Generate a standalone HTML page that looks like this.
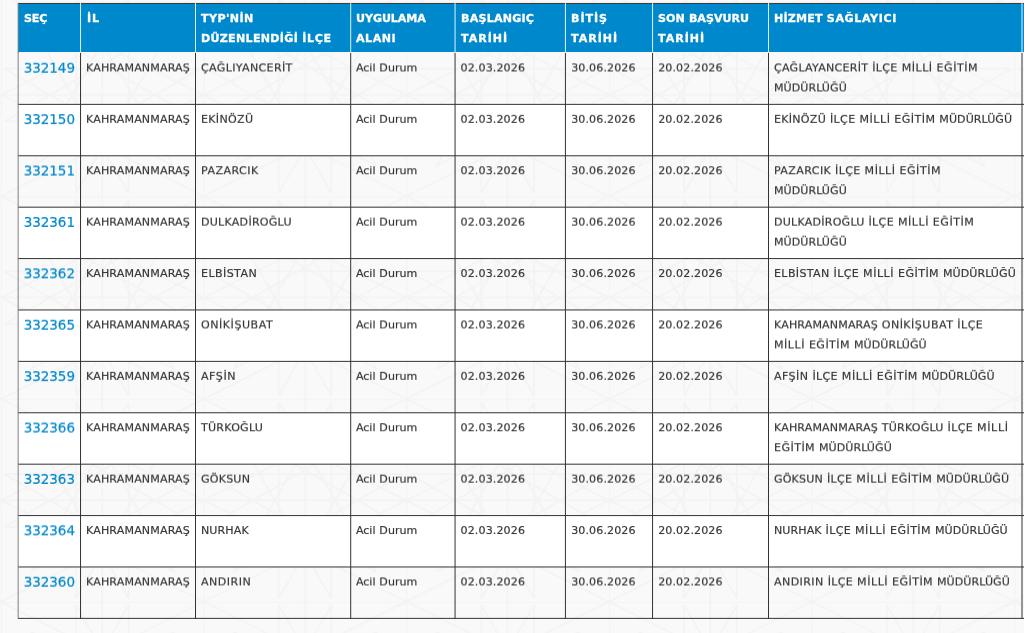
<!DOCTYPE html>
<html lang="tr">
<head>
<meta charset="utf-8">
<title>TYP Listesi</title>
<style>
html,body{margin:0;padding:0;}
body{width:1024px;height:633px;overflow:hidden;background:#f9f9f9;position:relative;
  font-family:"DejaVu Sans","Liberation Sans",sans-serif;font-size:11.08px;line-height:20px;color:#333;word-spacing:0.37px;}
svg.bg,svg.rules{position:absolute;left:0;top:0;width:1024px;height:633px;pointer-events:none;}
svg.bg{z-index:0;}
svg.rules{z-index:3;}
svg.defs{position:absolute;width:0;height:0;}
.wrap{position:absolute;left:18px;top:3px;width:1100px;z-index:1;}
table.grid{border-collapse:separate;border-spacing:0;table-layout:fixed;width:1122px;}
th,td{padding:0;margin:0;border:0;text-align:left;vertical-align:top;box-sizing:border-box;overflow:hidden;}
th{background:#0088cc;color:#fff;font-weight:bold;height:50px;-webkit-text-stroke:0.3px #fff;}
th div{padding:6px 0 0 6px;white-space:nowrap;}
td{-webkit-text-stroke:0.16px #303030;}
td div{padding:5px 0 0 6px;white-space:nowrap;}
tbody tr:nth-child(even) td{background:#fff;}
a.sec{color:#0088cc;text-decoration:none;font-size:13.5px;-webkit-text-stroke:0.2px #0088cc;letter-spacing:-0.05px;}
</style>
</head>
<body>
<svg class="defs" width="0" height="0" aria-hidden="true"><defs>
<filter id="v05" x="-4%" y="-15%" width="108%" height="130%" color-interpolation-filters="sRGB"><feConvolveMatrix order="1 2" kernelMatrix="0.95 0.05" divisor="1" targetX="0" targetY="1" edgeMode="none" preserveAlpha="false"/></filter>
<filter id="v15" x="-4%" y="-15%" width="108%" height="130%" color-interpolation-filters="sRGB"><feConvolveMatrix order="1 2" kernelMatrix="0.85 0.15" divisor="1" targetX="0" targetY="1" edgeMode="none" preserveAlpha="false"/></filter>
<filter id="v25" x="-4%" y="-15%" width="108%" height="130%" color-interpolation-filters="sRGB"><feConvolveMatrix order="1 2" kernelMatrix="0.75 0.25" divisor="1" targetX="0" targetY="1" edgeMode="none" preserveAlpha="false"/></filter>
<filter id="v35" x="-4%" y="-15%" width="108%" height="130%" color-interpolation-filters="sRGB"><feConvolveMatrix order="1 2" kernelMatrix="0.65 0.35" divisor="1" targetX="0" targetY="1" edgeMode="none" preserveAlpha="false"/></filter>
<filter id="v45" x="-4%" y="-15%" width="108%" height="130%" color-interpolation-filters="sRGB"><feConvolveMatrix order="1 2" kernelMatrix="0.55 0.45" divisor="1" targetX="0" targetY="1" edgeMode="none" preserveAlpha="false"/></filter>
<filter id="v55" x="-4%" y="-15%" width="108%" height="130%" color-interpolation-filters="sRGB"><feConvolveMatrix order="1 2" kernelMatrix="0.45 0.55" divisor="1" targetX="0" targetY="1" edgeMode="none" preserveAlpha="false"/></filter>
<filter id="v65" x="-4%" y="-15%" width="108%" height="130%" color-interpolation-filters="sRGB"><feConvolveMatrix order="1 2" kernelMatrix="0.35 0.65" divisor="1" targetX="0" targetY="1" edgeMode="none" preserveAlpha="false"/></filter>
<filter id="v75" x="-4%" y="-15%" width="108%" height="130%" color-interpolation-filters="sRGB"><feConvolveMatrix order="1 2" kernelMatrix="0.25 0.75" divisor="1" targetX="0" targetY="1" edgeMode="none" preserveAlpha="false"/></filter>
<filter id="v85" x="-4%" y="-15%" width="108%" height="130%" color-interpolation-filters="sRGB"><feConvolveMatrix order="1 2" kernelMatrix="0.15 0.85" divisor="1" targetX="0" targetY="1" edgeMode="none" preserveAlpha="false"/></filter>
<filter id="v95" x="-4%" y="-15%" width="108%" height="130%" color-interpolation-filters="sRGB"><feConvolveMatrix order="1 2" kernelMatrix="0.05 0.95" divisor="1" targetX="0" targetY="1" edgeMode="none" preserveAlpha="false"/></filter>
</defs></svg>
<svg class="bg" width="1024" height="633" viewBox="0 0 1024 633" aria-hidden="true">
<defs>
<pattern id="geo" width="202.7" height="202.7" patternUnits="userSpaceOnUse" patternTransform="translate(1 -6.35)">
<g fill="none" stroke="#f3f3f3" stroke-width="1.7">
<path d="M101.3 0V202.7M0 101.3H202.7M0 0V202.7M0 0H202.7"/>
<path d="M199.2 127.6L3.5 127.6M173 173L3.5 75.1M127.6 199.2L29.7 29.7M75.1 199.2L75.1 3.5M29.7 173L127.6 3.5M3.5 127.6L173 29.7M3.5 75.1L199.2 75.1M29.7 29.7L199.2 127.6M75.1 3.5L173 173M127.6 3.5L127.6 199.2M173 29.7L75.1 199.2M199.2 75.1L29.7 173"/>
<path d="M0 101.3L202.7 0M0 101.3L202.7 202.7M202.7 101.3L0 0M202.7 101.3L0 202.7"/>
</g>
</pattern>
</defs>
<rect width="1024" height="633" fill="url(#geo)"/>
</svg>
<div class="wrap">
<table class="grid">
<colgroup>
<col style="width:62px">
<col style="width:115px">
<col style="width:155px">
<col style="width:105px">
<col style="width:110px">
<col style="width:87px">
<col style="width:116px">
<col style="width:254px">
<col style="width:118px">
</colgroup>
<thead>
<tr>
<th><div><span style="letter-spacing:-0.115px">SEÇ</span></div></th>
<th><div style="transform:translate(0.9px,0px)"><span style="letter-spacing:1.021px">İL</span></div></th>
<th><div><span style="letter-spacing:0.425px">TYP'NİN</span><br><span style="letter-spacing:0.299px">DÜZENLENDİĞİ</span> <span style="letter-spacing:0.602px">İLÇE</span></div></th>
<th><div><span style="letter-spacing:-0.061px">UYGULAMA</span><br><span style="letter-spacing:0.52px">ALANI</span></div></th>
<th><div><span style="letter-spacing:0.219px">BAŞLANGIÇ</span><br><span style="letter-spacing:0.974px">TARİHİ</span></div></th>
<th><div><span style="letter-spacing:0.932px">BİTİŞ</span><br><span style="letter-spacing:0.974px">TARİHİ</span></div></th>
<th><div><span>SON</span> <span style="letter-spacing:-0.009px">BAŞVURU</span><br><span style="letter-spacing:0.974px">TARİHİ</span></div></th>
<th><div><span style="letter-spacing:0.173px">HİZMET</span> <span style="letter-spacing:0.597px">SAĞLAYICI</span></div></th>
<th><div></div></th>
</tr>
</thead>
<tbody>
<tr style="height:51px">
<td><div style="transform:translate(-0.3px,-1px);filter:url(#v75)"><a class="sec" href="#">332149</a></div></td>
<td><div style="filter:url(#v45)"><span style="letter-spacing:0.131px">KAHRAMANMARAŞ</span></div></td>
<td><div style="filter:url(#v45)"><span style="letter-spacing:0.33px">ÇAĞLIYANCERİT</span></div></td>
<td><div style="filter:url(#v45)"><span style="letter-spacing:-0.053px">Acil</span> <span style="letter-spacing:0.036px">Durum</span></div></td>
<td><div style="transform:translate(-0.45px,0px);filter:url(#v45)"><span style="letter-spacing:0.108px">02.03.2026</span></div></td>
<td><div style="transform:translate(0.15px,0px);filter:url(#v45)"><span style="letter-spacing:0.108px">30.06.2026</span></div></td>
<td><div style="transform:translate(0.15px,0px);filter:url(#v45)"><span style="letter-spacing:0.108px">20.02.2026</span></div></td>
<td><div style="filter:url(#v45)"><span style="letter-spacing:0.243px">ÇAĞLAYANCERİT</span> <span style="letter-spacing:0.347px">İLÇE</span> <span style="letter-spacing:0.513px">MİLLİ</span> <span style="letter-spacing:0.527px">EĞİTİM</span><br><span style="letter-spacing:0.042px">MÜDÜRLÜĞÜ</span></div></td>
<td></td>
</tr>
<tr style="height:52px">
<td><div style="transform:translate(-0.3px,0px);filter:url(#v15)"><a class="sec" href="#">332150</a></div></td>
<td><div style="filter:url(#v85)"><span style="letter-spacing:0.131px">KAHRAMANMARAŞ</span></div></td>
<td><div style="filter:url(#v85)"><span style="letter-spacing:0.301px">EKİNÖZÜ</span></div></td>
<td><div style="filter:url(#v85)"><span style="letter-spacing:-0.053px">Acil</span> <span style="letter-spacing:0.036px">Durum</span></div></td>
<td><div style="transform:translate(-0.45px,0px);filter:url(#v85)"><span style="letter-spacing:0.108px">02.03.2026</span></div></td>
<td><div style="transform:translate(0.15px,0px);filter:url(#v85)"><span style="letter-spacing:0.108px">30.06.2026</span></div></td>
<td><div style="transform:translate(0.15px,0px);filter:url(#v85)"><span style="letter-spacing:0.108px">20.02.2026</span></div></td>
<td><div style="filter:url(#v85)"><span style="letter-spacing:0.258px">EKİNÖZÜ</span> <span style="letter-spacing:0.347px">İLÇE</span> <span style="letter-spacing:0.513px">MİLLİ</span> <span style="letter-spacing:0.44px">EĞİTİM</span> <span style="letter-spacing:0.042px">MÜDÜRLÜĞÜ</span></div></td>
<td></td>
</tr>
<tr style="height:51px">
<td><div style="transform:translate(-0.3px,-1px);filter:url(#v55)"><a class="sec" href="#">332151</a></div></td>
<td><div style="filter:url(#v25)"><span style="letter-spacing:0.131px">KAHRAMANMARAŞ</span></div></td>
<td><div style="filter:url(#v25)"><span style="letter-spacing:0.437px">PAZARCIK</span></div></td>
<td><div style="filter:url(#v25)"><span style="letter-spacing:-0.053px">Acil</span> <span style="letter-spacing:0.036px">Durum</span></div></td>
<td><div style="transform:translate(-0.45px,0px);filter:url(#v25)"><span style="letter-spacing:0.108px">02.03.2026</span></div></td>
<td><div style="transform:translate(0.15px,0px);filter:url(#v25)"><span style="letter-spacing:0.108px">30.06.2026</span></div></td>
<td><div style="transform:translate(0.15px,0px);filter:url(#v25)"><span style="letter-spacing:0.108px">20.02.2026</span></div></td>
<td><div style="filter:url(#v25)"><span style="letter-spacing:0.382px">PAZARCIK</span> <span style="letter-spacing:0.347px">İLÇE</span> <span style="letter-spacing:0.513px">MİLLİ</span> <span style="letter-spacing:0.527px">EĞİTİM</span><br><span style="letter-spacing:0.042px">MÜDÜRLÜĞÜ</span></div></td>
<td></td>
</tr>
<tr style="height:52px">
<td><div style="transform:translate(-0.3px,-1px);filter:url(#v95)"><a class="sec" href="#">332361</a></div></td>
<td><div style="filter:url(#v65)"><span style="letter-spacing:0.131px">KAHRAMANMARAŞ</span></div></td>
<td><div style="filter:url(#v65)"><span style="letter-spacing:0.232px">DULKADİROĞLU</span></div></td>
<td><div style="filter:url(#v65)"><span style="letter-spacing:-0.053px">Acil</span> <span style="letter-spacing:0.036px">Durum</span></div></td>
<td><div style="transform:translate(-0.45px,0px);filter:url(#v65)"><span style="letter-spacing:0.108px">02.03.2026</span></div></td>
<td><div style="transform:translate(0.15px,0px);filter:url(#v65)"><span style="letter-spacing:0.108px">30.06.2026</span></div></td>
<td><div style="transform:translate(0.15px,0px);filter:url(#v65)"><span style="letter-spacing:0.108px">20.02.2026</span></div></td>
<td><div style="filter:url(#v65)"><span style="letter-spacing:0.213px">DULKADİROĞLU</span> <span style="letter-spacing:0.347px">İLÇE</span> <span style="letter-spacing:0.513px">MİLLİ</span> <span style="letter-spacing:0.527px">EĞİTİM</span><br><span style="letter-spacing:0.042px">MÜDÜRLÜĞÜ</span></div></td>
<td></td>
</tr>
<tr style="height:51px">
<td><div style="transform:translate(-0.3px,-1px);filter:url(#v35)"><a class="sec" href="#">332362</a></div></td>
<td><div style="filter:url(#v05)"><span style="letter-spacing:0.131px">KAHRAMANMARAŞ</span></div></td>
<td><div style="filter:url(#v05)"><span style="letter-spacing:0.408px">ELBİSTAN</span></div></td>
<td><div style="filter:url(#v05)"><span style="letter-spacing:-0.053px">Acil</span> <span style="letter-spacing:0.036px">Durum</span></div></td>
<td><div style="transform:translate(-0.45px,0px);filter:url(#v05)"><span style="letter-spacing:0.108px">02.03.2026</span></div></td>
<td><div style="transform:translate(0.15px,0px);filter:url(#v05)"><span style="letter-spacing:0.108px">30.06.2026</span></div></td>
<td><div style="transform:translate(0.15px,0px);filter:url(#v05)"><span style="letter-spacing:0.108px">20.02.2026</span></div></td>
<td><div style="filter:url(#v05)"><span style="letter-spacing:0.357px">ELBİSTAN</span> <span style="letter-spacing:0.347px">İLÇE</span> <span style="letter-spacing:0.513px">MİLLİ</span> <span style="letter-spacing:0.44px">EĞİTİM</span> <span style="letter-spacing:0.042px">MÜDÜRLÜĞÜ</span></div></td>
<td></td>
</tr>
<tr style="height:51px">
<td><div style="transform:translate(-0.3px,-1px);filter:url(#v75)"><a class="sec" href="#">332365</a></div></td>
<td><div style="filter:url(#v45)"><span style="letter-spacing:0.131px">KAHRAMANMARAŞ</span></div></td>
<td><div style="filter:url(#v45)"><span style="letter-spacing:0.518px">ONİKİŞUBAT</span></div></td>
<td><div style="filter:url(#v45)"><span style="letter-spacing:-0.053px">Acil</span> <span style="letter-spacing:0.036px">Durum</span></div></td>
<td><div style="transform:translate(-0.45px,0px);filter:url(#v45)"><span style="letter-spacing:0.108px">02.03.2026</span></div></td>
<td><div style="transform:translate(0.15px,0px);filter:url(#v45)"><span style="letter-spacing:0.108px">30.06.2026</span></div></td>
<td><div style="transform:translate(0.15px,0px);filter:url(#v45)"><span style="letter-spacing:0.108px">20.02.2026</span></div></td>
<td><div style="filter:url(#v45)"><span style="letter-spacing:0.121px">KAHRAMANMARAŞ</span> <span style="letter-spacing:0.466px">ONİKİŞUBAT</span> <span style="letter-spacing:0.462px">İLÇE</span><br><span style="letter-spacing:0.513px">MİLLİ</span> <span style="letter-spacing:0.44px">EĞİTİM</span> <span style="letter-spacing:0.042px">MÜDÜRLÜĞÜ</span></div></td>
<td></td>
</tr>
<tr style="height:52px">
<td><div style="transform:translate(-0.3px,0px);filter:url(#v15)"><a class="sec" href="#">332359</a></div></td>
<td><div style="filter:url(#v85)"><span style="letter-spacing:0.131px">KAHRAMANMARAŞ</span></div></td>
<td><div style="filter:url(#v85)"><span style="letter-spacing:0.531px">AFŞİN</span></div></td>
<td><div style="filter:url(#v85)"><span style="letter-spacing:-0.053px">Acil</span> <span style="letter-spacing:0.036px">Durum</span></div></td>
<td><div style="transform:translate(-0.45px,0px);filter:url(#v85)"><span style="letter-spacing:0.108px">02.03.2026</span></div></td>
<td><div style="transform:translate(0.15px,0px);filter:url(#v85)"><span style="letter-spacing:0.108px">30.06.2026</span></div></td>
<td><div style="transform:translate(0.15px,0px);filter:url(#v85)"><span style="letter-spacing:0.108px">20.02.2026</span></div></td>
<td><div style="filter:url(#v85)"><span style="letter-spacing:0.425px">AFŞİN</span> <span style="letter-spacing:0.347px">İLÇE</span> <span style="letter-spacing:0.513px">MİLLİ</span> <span style="letter-spacing:0.44px">EĞİTİM</span> <span style="letter-spacing:0.042px">MÜDÜRLÜĞÜ</span></div></td>
<td></td>
</tr>
<tr style="height:51px">
<td><div style="transform:translate(-0.3px,-1px);filter:url(#v55)"><a class="sec" href="#">332366</a></div></td>
<td><div style="filter:url(#v25)"><span style="letter-spacing:0.131px">KAHRAMANMARAŞ</span></div></td>
<td><div style="filter:url(#v25)"><span style="letter-spacing:0.234px">TÜRKOĞLU</span></div></td>
<td><div style="filter:url(#v25)"><span style="letter-spacing:-0.053px">Acil</span> <span style="letter-spacing:0.036px">Durum</span></div></td>
<td><div style="transform:translate(-0.45px,0px);filter:url(#v25)"><span style="letter-spacing:0.108px">02.03.2026</span></div></td>
<td><div style="transform:translate(0.15px,0px);filter:url(#v25)"><span style="letter-spacing:0.108px">30.06.2026</span></div></td>
<td><div style="transform:translate(0.15px,0px);filter:url(#v25)"><span style="letter-spacing:0.108px">20.02.2026</span></div></td>
<td><div style="filter:url(#v25)"><span style="letter-spacing:0.121px">KAHRAMANMARAŞ</span> <span style="letter-spacing:0.205px">TÜRKOĞLU</span> <span style="letter-spacing:0.347px">İLÇE</span> <span style="letter-spacing:0.641px">MİLLİ</span><br><span style="letter-spacing:0.44px">EĞİTİM</span> <span style="letter-spacing:0.042px">MÜDÜRLÜĞÜ</span></div></td>
<td></td>
</tr>
<tr style="height:52px">
<td><div style="transform:translate(-0.3px,-1px);filter:url(#v95)"><a class="sec" href="#">332363</a></div></td>
<td><div style="filter:url(#v65)"><span style="letter-spacing:0.131px">KAHRAMANMARAŞ</span></div></td>
<td><div style="filter:url(#v65)"><span style="letter-spacing:0.192px">GÖKSUN</span></div></td>
<td><div style="filter:url(#v65)"><span style="letter-spacing:-0.053px">Acil</span> <span style="letter-spacing:0.036px">Durum</span></div></td>
<td><div style="transform:translate(-0.45px,0px);filter:url(#v65)"><span style="letter-spacing:0.108px">02.03.2026</span></div></td>
<td><div style="transform:translate(0.15px,0px);filter:url(#v65)"><span style="letter-spacing:0.108px">30.06.2026</span></div></td>
<td><div style="transform:translate(0.15px,0px);filter:url(#v65)"><span style="letter-spacing:0.108px">20.02.2026</span></div></td>
<td><div style="filter:url(#v65)"><span style="letter-spacing:0.16px">GÖKSUN</span> <span style="letter-spacing:0.347px">İLÇE</span> <span style="letter-spacing:0.513px">MİLLİ</span> <span style="letter-spacing:0.44px">EĞİTİM</span> <span style="letter-spacing:0.042px">MÜDÜRLÜĞÜ</span></div></td>
<td></td>
</tr>
<tr style="height:51px">
<td><div style="transform:translate(-0.3px,-1px);filter:url(#v35)"><a class="sec" href="#">332364</a></div></td>
<td><div style="filter:url(#v05)"><span style="letter-spacing:0.131px">KAHRAMANMARAŞ</span></div></td>
<td><div style="filter:url(#v05)"><span style="letter-spacing:0.079px">NURHAK</span></div></td>
<td><div style="filter:url(#v05)"><span style="letter-spacing:-0.053px">Acil</span> <span style="letter-spacing:0.036px">Durum</span></div></td>
<td><div style="transform:translate(-0.45px,0px);filter:url(#v05)"><span style="letter-spacing:0.108px">02.03.2026</span></div></td>
<td><div style="transform:translate(0.15px,0px);filter:url(#v05)"><span style="letter-spacing:0.108px">30.06.2026</span></div></td>
<td><div style="transform:translate(0.15px,0px);filter:url(#v05)"><span style="letter-spacing:0.108px">20.02.2026</span></div></td>
<td><div style="filter:url(#v05)"><span style="letter-spacing:0.066px">NURHAK</span> <span style="letter-spacing:0.347px">İLÇE</span> <span style="letter-spacing:0.513px">MİLLİ</span> <span style="letter-spacing:0.44px">EĞİTİM</span> <span style="letter-spacing:0.042px">MÜDÜRLÜĞÜ</span></div></td>
<td></td>
</tr>
<tr style="height:51px">
<td><div style="transform:translate(-0.3px,-1px);filter:url(#v75)"><a class="sec" href="#">332360</a></div></td>
<td><div style="filter:url(#v45)"><span style="letter-spacing:0.131px">KAHRAMANMARAŞ</span></div></td>
<td><div style="filter:url(#v45)"><span style="letter-spacing:0.465px">ANDIRIN</span></div></td>
<td><div style="filter:url(#v45)"><span style="letter-spacing:-0.053px">Acil</span> <span style="letter-spacing:0.036px">Durum</span></div></td>
<td><div style="transform:translate(-0.45px,0px);filter:url(#v45)"><span style="letter-spacing:0.108px">02.03.2026</span></div></td>
<td><div style="transform:translate(0.15px,0px);filter:url(#v45)"><span style="letter-spacing:0.108px">30.06.2026</span></div></td>
<td><div style="transform:translate(0.15px,0px);filter:url(#v45)"><span style="letter-spacing:0.108px">20.02.2026</span></div></td>
<td><div style="filter:url(#v45)"><span style="letter-spacing:0.399px">ANDIRIN</span> <span style="letter-spacing:0.347px">İLÇE</span> <span style="letter-spacing:0.513px">MİLLİ</span> <span style="letter-spacing:0.44px">EĞİTİM</span> <span style="letter-spacing:0.042px">MÜDÜRLÜĞÜ</span></div></td>
<td></td>
</tr>
</tbody>
</table>
</div>
<svg class="rules" width="1024" height="633" viewBox="0 0 1024 633" aria-hidden="true">
<rect x="17.9" y="2.95" width="1006.1" height="1" fill="#3a3a3a"/>
<rect x="18.64" y="52.05" width="1005.36" height="1" fill="#fff"/>
<g fill="#fff" fill-opacity="0.88">
<rect x="80.03" y="2.95" width="1" height="50.1"/>
<rect x="195" y="2.95" width="1" height="50.1"/>
<rect x="350.2" y="2.95" width="1" height="50.1"/>
<rect x="454.55" y="2.95" width="1" height="50.1"/>
<rect x="564.92" y="2.95" width="1" height="50.1"/>
<rect x="652.05" y="2.95" width="1" height="50.1"/>
<rect x="768" y="2.95" width="1" height="50.1"/>
<rect x="1021.5" y="2.95" width="1" height="50.1"/>
</g>
<g fill="#333">
<rect x="80.03" y="52.8" width="1" height="566.07"/>
<rect x="195" y="52.8" width="1" height="566.07"/>
<rect x="350.2" y="52.8" width="1" height="566.07"/>
<rect x="454.55" y="52.8" width="1" height="566.07"/>
<rect x="564.92" y="52.8" width="1" height="566.07"/>
<rect x="652.05" y="52.8" width="1" height="566.07"/>
<rect x="768" y="52.8" width="1" height="566.07"/>
<rect x="1021.5" y="52.8" width="1" height="566.07"/>
<rect x="17.9" y="103.87" width="1006.1" height="1"/>
<rect x="17.9" y="155.27" width="1006.1" height="1"/>
<rect x="17.9" y="206.67" width="1006.1" height="1"/>
<rect x="17.9" y="258.07" width="1006.1" height="1"/>
<rect x="17.9" y="309.47" width="1006.1" height="1"/>
<rect x="17.9" y="360.87" width="1006.1" height="1"/>
<rect x="17.9" y="412.27" width="1006.1" height="1"/>
<rect x="17.9" y="463.67" width="1006.1" height="1"/>
<rect x="17.9" y="515.07" width="1006.1" height="1"/>
<rect x="17.9" y="566.47" width="1006.1" height="1"/>
<rect x="17.9" y="617.87" width="1006.1" height="1"/>
</g>
<rect x="17.64" y="2.95" width="1" height="615.92" fill="#808080"/>
</svg>
</body>
</html>
